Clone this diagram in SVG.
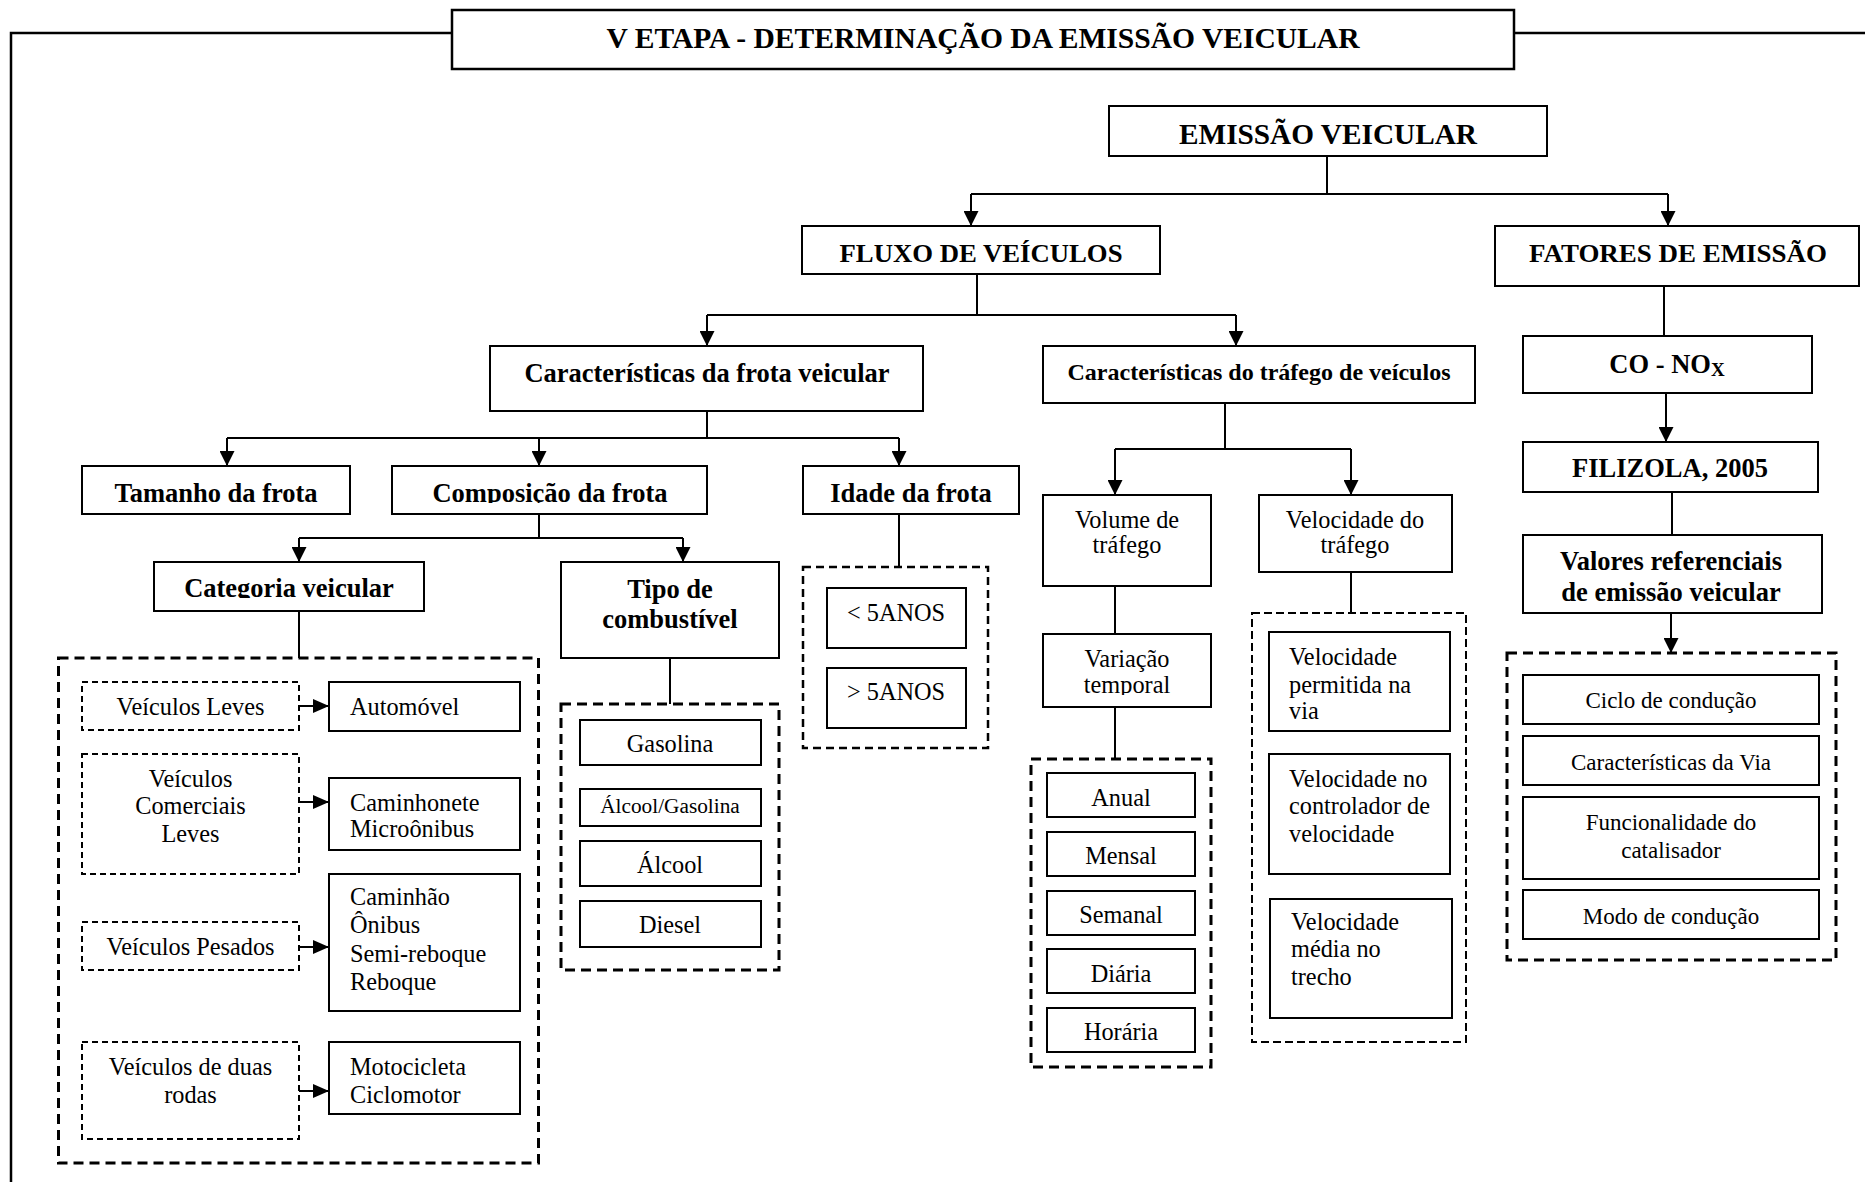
<svg xmlns="http://www.w3.org/2000/svg" width="1865" height="1182" viewBox="0 0 1865 1182">
<style>
  .box { fill: #fff; stroke: #000; stroke-width: 2; }
  .dash { fill: none; stroke: #000; stroke-width: 3; stroke-dasharray: 10 6; }
  .dash2 { fill: none; stroke: #000; stroke-width: 2; stroke-dasharray: 6 4; }
  .ln { fill: none; stroke: #000; stroke-width: 2; }
  .frame { fill: none; stroke: #000; stroke-width: 2.5; }
  .b { font-family: "Liberation Serif", "Times New Roman", serif; font-weight: bold; font-size: 26.5px; fill: #000; }
  .r { font-family: "Liberation Serif", "Times New Roman", serif; font-size: 24.3px; fill: #000; }
  .s { font-family: "Liberation Serif", "Times New Roman", serif; font-size: 23px; fill: #000; }
  .c { text-anchor: middle; }
</style>
<defs>
  <marker id="arr" viewBox="0 0 15 15" refX="15" refY="7.5" markerWidth="15" markerHeight="15" markerUnits="userSpaceOnUse" orient="auto">
    <path d="M0,0 L15,7.5 L0,15 Z" fill="#000"/>
  </marker>
  <marker id="arrs" viewBox="0 0 16 14" refX="16" refY="7" markerWidth="16" markerHeight="14" markerUnits="userSpaceOnUse" orient="auto">
    <path d="M0,0 L16,7 L0,14 Z" fill="#000"/>
  </marker>
  <!-- text frames that cut descenders at the baseline -->
  <clipPath id="clip-composicao"><rect x="392" y="466" width="315" height="37"/></clipPath>
  <clipPath id="clip-categoria"><rect x="154" y="562" width="270" height="36"/></clipPath>
  <clipPath id="clip-temporal"><rect x="1043" y="634" width="168" height="61"/></clipPath>
</defs>
<rect width="1865" height="1182" fill="#fff"/>

<!-- outer frame and title -->
<path class="frame" d="M452,33 H11 V1182 M1514,33 H1865"/>
<g id="titulo">
  <rect x="452" y="10" width="1062" height="59" class="box" style="stroke-width:2.5"/>
  <text x="983" y="48" class="b c" style="font-size:30px" textLength="753" lengthAdjust="spacingAndGlyphs">V ETAPA - DETERMINAÇÃO DA EMISSÃO VEICULAR</text>
</g>

<!-- connectors -->
<g id="connectors">
  <path class="ln" d="M1327,156 V194 M971,194 H1668"/>
  <path class="ln" d="M971,194 V226" marker-end="url(#arr)"/>
  <path class="ln" d="M1668,194 V226" marker-end="url(#arr)"/>

  <path class="ln" d="M977,274 V315 M707,315 H1236"/>
  <path class="ln" d="M707,315 V346" marker-end="url(#arr)"/>
  <path class="ln" d="M1236,315 V346" marker-end="url(#arr)"/>

  <path class="ln" d="M707,411 V438 M227,438 H899"/>
  <path class="ln" d="M227,438 V466" marker-end="url(#arr)"/>
  <path class="ln" d="M539,438 V466" marker-end="url(#arr)"/>
  <path class="ln" d="M899,438 V466" marker-end="url(#arr)"/>

  <path class="ln" d="M539,514 V538 M299,538 H683"/>
  <path class="ln" d="M299,538 V562" marker-end="url(#arr)"/>
  <path class="ln" d="M683,538 V562" marker-end="url(#arr)"/>

  <path class="ln" d="M299,611 V658"/>
  <path class="ln" d="M670,658 V704"/>
  <path class="ln" d="M899,514 V567"/>

  <path class="ln" d="M1225,403 V449 M1115,449 H1351"/>
  <path class="ln" d="M1115,449 V495" marker-end="url(#arr)"/>
  <path class="ln" d="M1351,449 V495" marker-end="url(#arr)"/>
  <path class="ln" d="M1115,586 V634"/>
  <path class="ln" d="M1115,707 V759"/>
  <path class="ln" d="M1351,572 V613"/>

  <path class="ln" d="M1664,286 V336"/>
  <path class="ln" d="M1666,393 V442" marker-end="url(#arr)"/>
  <path class="ln" d="M1672,492 V535"/>
  <path class="ln" d="M1671,613 V653" marker-end="url(#arr)"/>

  <path class="ln" d="M299,706 H329" marker-end="url(#arrs)"/>
  <path class="ln" d="M299,802 H329" marker-end="url(#arrs)"/>
  <path class="ln" d="M299,947 H329" marker-end="url(#arrs)"/>
  <path class="ln" d="M299,1091 H329" marker-end="url(#arrs)"/>
</g>

<!-- top levels -->
<g id="emissao-veicular">
  <rect x="1109" y="106" width="438" height="50" class="box"/>
  <text x="1328" y="144" class="b c" style="font-size:29px" textLength="298" lengthAdjust="spacingAndGlyphs">EMISSÃO VEICULAR</text>
</g>
<g id="fluxo-veiculos">
  <rect x="802" y="226" width="358" height="48" class="box"/>
  <text x="981" y="262" class="b c" style="font-size:26px" textLength="283" lengthAdjust="spacingAndGlyphs">FLUXO DE VEÍCULOS</text>
</g>
<g id="fatores-emissao">
  <rect x="1495" y="226" width="364" height="60" class="box"/>
  <text x="1678" y="262" class="b c" style="font-size:26px" textLength="298" lengthAdjust="spacingAndGlyphs">FATORES DE EMISSÃO</text>
</g>

<g id="caract-frota">
  <rect x="490" y="346" width="433" height="65" class="box"/>
  <text x="707" y="382" class="b c">Características da frota veicular</text>
</g>
<g id="caract-trafego">
  <rect x="1043" y="346" width="432" height="57" class="box"/>
  <text x="1259" y="380" class="b c" style="font-size:23px" textLength="383" lengthAdjust="spacingAndGlyphs">Características do tráfego de veículos</text>
</g>

<g id="tamanho-frota">
  <rect x="82" y="466" width="268" height="48" class="box"/>
  <text x="216" y="502" class="b c">Tamanho da frota</text>
</g>
<g id="composicao-frota">
  <rect x="392" y="466" width="315" height="48" class="box"/>
  <text x="550" y="502" class="b c" clip-path="url(#clip-composicao)">Composição da frota</text>
</g>
<g id="idade-frota">
  <rect x="803" y="466" width="216" height="48" class="box"/>
  <text x="911" y="502" class="b c">Idade da frota</text>
</g>

<g id="categoria-veicular">
  <rect x="154" y="562" width="270" height="49" class="box"/>
  <text x="289" y="597" class="b c" clip-path="url(#clip-categoria)">Categoria veicular</text>
</g>
<g id="tipo-combustivel">
  <rect x="561" y="562" width="218" height="96" class="box"/>
  <text x="670" y="598" class="b c">Tipo de</text>
  <text x="670" y="628" class="b c">combustível</text>
</g>

<!-- vehicle categories -->
<g id="grupo-categorias">
  <rect x="58.5" y="658" width="480" height="505" class="dash"/>
</g>
<g id="veiculos-leves">
  <rect x="82" y="682" width="217" height="48" class="dash2"/>
  <text x="190.5" y="715" class="r c">Veículos Leves</text>
</g>
<g id="automovel">
  <rect x="329" y="682" width="191" height="49" class="box"/>
  <text x="350" y="715" class="r">Automóvel</text>
</g>
<g id="veiculos-comerciais-leves">
  <rect x="82" y="754" width="217" height="120" class="dash2"/>
  <text x="190.5" y="787" class="r c">Veículos</text>
  <text x="190.5" y="814" class="r c">Comerciais</text>
  <text x="190.5" y="842" class="r c">Leves</text>
</g>
<g id="caminhonete">
  <rect x="329" y="778" width="191" height="72" class="box"/>
  <text x="350" y="811" class="r">Caminhonete</text>
  <text x="350" y="837" class="r">Microônibus</text>
</g>
<g id="veiculos-pesados">
  <rect x="82" y="922" width="217" height="48" class="dash2"/>
  <text x="190.5" y="955" class="r c">Veículos Pesados</text>
</g>
<g id="caminhao">
  <rect x="329" y="874" width="191" height="137" class="box"/>
  <text x="350" y="905" class="r">Caminhão</text>
  <text x="350" y="933" class="r">Ônibus</text>
  <text x="350" y="962" class="r">Semi-reboque</text>
  <text x="350" y="990" class="r">Reboque</text>
</g>
<g id="veiculos-duas-rodas">
  <rect x="82" y="1042" width="217" height="97" class="dash2"/>
  <text x="190.5" y="1075" class="r c">Veículos de duas</text>
  <text x="190.5" y="1103" class="r c">rodas</text>
</g>
<g id="motocicleta">
  <rect x="329" y="1042" width="191" height="72" class="box"/>
  <text x="350" y="1075" class="r">Motocicleta</text>
  <text x="350" y="1103" class="r">Ciclomotor</text>
</g>

<!-- fuel types -->
<g id="grupo-combustiveis">
  <rect x="561" y="704" width="218" height="266" class="dash"/>
</g>
<g id="gasolina">
  <rect x="580" y="720" width="181" height="45" class="box"/>
  <text x="670" y="752" class="r c">Gasolina</text>
</g>
<g id="alcool-gasolina">
  <rect x="580" y="789" width="181" height="37" class="box"/>
  <text x="670" y="813" class="r c" style="font-size:21.3px">Álcool/Gasolina</text>
</g>
<g id="alcool">
  <rect x="580" y="841" width="181" height="45" class="box"/>
  <text x="670" y="873" class="r c">Álcool</text>
</g>
<g id="diesel">
  <rect x="580" y="901" width="181" height="46" class="box"/>
  <text x="670" y="933" class="r c">Diesel</text>
</g>

<!-- fleet age -->
<g id="grupo-idade">
  <rect x="803" y="567" width="185" height="181" class="dash" style="stroke-width:2.5;stroke-dasharray:8 5"/>
</g>
<g id="menos-5anos">
  <rect x="827" y="588" width="139" height="60" class="box"/>
  <text x="896" y="621" class="r c">&lt; 5ANOS</text>
</g>
<g id="mais-5anos">
  <rect x="827" y="668" width="139" height="60" class="box"/>
  <text x="896" y="700" class="r c">&gt; 5ANOS</text>
</g>

<!-- traffic volume -->
<g id="volume-trafego">
  <rect x="1043" y="495" width="168" height="91" class="box"/>
  <text x="1127" y="528" class="r c">Volume de</text>
  <text x="1127" y="553" class="r c">tráfego</text>
</g>
<g id="variacao-temporal">
  <rect x="1043" y="634" width="168" height="73" class="box"/>
  <text x="1127" y="667" class="r c">Variação</text>
  <text x="1127" y="693" class="r c" clip-path="url(#clip-temporal)">temporal</text>
</g>
<g id="grupo-variacao">
  <rect x="1031" y="759" width="180" height="308" class="dash"/>
</g>
<g id="anual">
  <rect x="1047" y="773" width="148" height="44" class="box"/>
  <text x="1121" y="806" class="r c">Anual</text>
</g>
<g id="mensal">
  <rect x="1047" y="832" width="148" height="44" class="box"/>
  <text x="1121" y="864" class="r c">Mensal</text>
</g>
<g id="semanal">
  <rect x="1047" y="891" width="148" height="44" class="box"/>
  <text x="1121" y="923" class="r c">Semanal</text>
</g>
<g id="diaria">
  <rect x="1047" y="949" width="148" height="44" class="box"/>
  <text x="1121" y="982" class="r c">Diária</text>
</g>
<g id="horaria">
  <rect x="1047" y="1008" width="148" height="44" class="box"/>
  <text x="1121" y="1040" class="r c">Horária</text>
</g>

<!-- traffic speed -->
<g id="velocidade-trafego">
  <rect x="1259" y="495" width="193" height="77" class="box"/>
  <text x="1355" y="528" class="r c">Velocidade do</text>
  <text x="1355" y="553" class="r c">tráfego</text>
</g>
<g id="grupo-velocidade">
  <rect x="1252" y="613" width="214" height="429" class="dash2" style="stroke-dasharray:8 4"/>
</g>
<g id="velocidade-permitida">
  <rect x="1269" y="632" width="181" height="99" class="box"/>
  <text x="1289" y="665" class="r">Velocidade</text>
  <text x="1289" y="693" class="r">permitida na</text>
  <text x="1289" y="719" class="r">via</text>
</g>
<g id="velocidade-controlador">
  <rect x="1269" y="754" width="181" height="120" class="box"/>
  <text x="1289" y="787" class="r">Velocidade no</text>
  <text x="1289" y="814" class="r">controlador de</text>
  <text x="1289" y="842" class="r">velocidade</text>
</g>
<g id="velocidade-media">
  <rect x="1270" y="899" width="182" height="119" class="box"/>
  <text x="1291" y="930" class="r">Velocidade</text>
  <text x="1291" y="957" class="r">média no</text>
  <text x="1291" y="985" class="r">trecho</text>
</g>

<!-- emission factors -->
<g id="co-nox">
  <rect x="1523" y="336" width="289" height="57" class="box"/>
  <text x="1667" y="373" class="b c">CO - NO<tspan style="font-size:19px" dy="3">X</tspan></text>
</g>
<g id="filizola">
  <rect x="1523" y="442" width="295" height="50" class="box"/>
  <text x="1670" y="477" class="b c">FILIZOLA, 2005</text>
</g>
<g id="valores-referenciais">
  <rect x="1523" y="535" width="299" height="78" class="box"/>
  <text x="1671" y="570" class="b c">Valores referenciais</text>
  <text x="1671" y="601" class="b c">de emissão veicular</text>
</g>
<g id="grupo-fatores">
  <rect x="1507" y="653" width="329" height="307" class="dash"/>
</g>
<g id="ciclo-conducao">
  <rect x="1523" y="675" width="296" height="49" class="box"/>
  <text x="1671" y="708" class="s c">Ciclo de condução</text>
</g>
<g id="caract-via">
  <rect x="1523" y="736" width="296" height="49" class="box"/>
  <text x="1671" y="770" class="s c">Características da Via</text>
</g>
<g id="funcionalidade-catalisador">
  <rect x="1523" y="797" width="296" height="82" class="box"/>
  <text x="1671" y="830" class="s c">Funcionalidade do</text>
  <text x="1671" y="858" class="s c">catalisador</text>
</g>
<g id="modo-conducao">
  <rect x="1523" y="890" width="296" height="49" class="box"/>
  <text x="1671" y="924" class="s c">Modo de condução</text>
</g>
</svg>
